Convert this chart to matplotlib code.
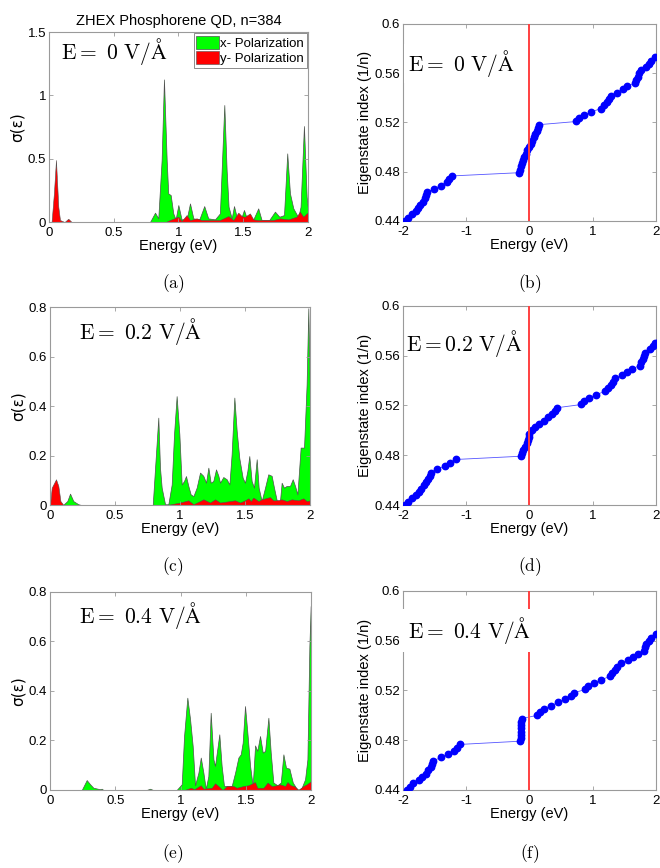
import numpy as np
import matplotlib
matplotlib.use("Agg")
import matplotlib.pyplot as plt

plt.rcParams['font.family'] = ['Liberation Sans', 'DejaVu Sans']
plt.rcParams['mathtext.fontset'] = 'cm'

# ---------------- optical conductivity spectra (left column) ----------------
# E = 0 V/A
a_x_energy = [0.0, 0.78, 0.819, 0.844, 0.870, 0.888, 0.909, 0.921, 0.940, 0.960, 0.978, 0.999, 1.024,
              1.063, 1.089, 1.115, 1.161, 1.199, 1.230, 1.282, 1.320, 1.354, 1.372, 1.387, 1.411,
              1.429, 1.454, 1.480, 1.506, 1.532, 1.578, 1.616, 1.642, 1.701, 1.745, 1.779, 1.815,
              1.840, 1.861, 1.887, 1.925, 1.943, 1.969, 1.990, 2.0]
a_x_sigma = [0.0, 0.0, 0.074, 0.029, 0.49, 1.126, 0.49, 0.226, 0.213, 0.068, 0.021, 0.134, 0.021,
             0.021, 0.147, 0.029, 0.021, 0.126, 0.029, 0.021, 0.068, 0.924, 0.41, 0.121, 0.029,
             0.126, 0.021, 0.016, 0.095, 0.016, 0.021, 0.108, 0.016, 0.016, 0.082, 0.042, 0.055,
             0.542, 0.226, 0.108, 0.037, 0.121, 0.758, 0.2, 0.108]
a_y_energy = [0.0, 0.020, 0.038, 0.054, 0.072, 0.085, 0.12, 0.149, 0.175, 0.90, 0.934, 0.999, 1.024,
              1.063, 1.089, 1.140, 1.179, 1.243, 1.320, 1.385, 1.424, 1.462, 1.488, 1.513, 1.552,
              1.578, 1.616, 1.680, 1.731, 1.784, 1.848, 1.912, 1.938, 1.964, 1.990, 2.0]
a_y_sigma = [0.0, 0.0, 0.226, 0.49, 0.121, 0.016, 0.0, 0.026, 0.0, 0.0, 0.016, 0.042, 0.008,
             0.055, 0.016, 0.029, 0.016, 0.016, 0.016, 0.047, 0.016, 0.074, 0.047, 0.042, 0.068,
             0.021, 0.016, 0.016, 0.016, 0.029, 0.021, 0.042, 0.082, 0.042, 0.068, 0.074]

# E = 0.2 V/A
c_x_energy = [0.0, 0.10, 0.133, 0.154, 0.179, 0.218, 0.24, 0.79, 0.808, 0.833, 0.846, 0.859, 0.885,
              0.910, 0.936, 0.954, 0.974, 0.995, 1.013, 1.031, 1.046, 1.064, 1.082, 1.103, 1.128,
              1.154, 1.179, 1.200, 1.218, 1.236, 1.256, 1.277, 1.295, 1.308, 1.333, 1.359, 1.380,
              1.397, 1.418, 1.436, 1.456, 1.482, 1.500, 1.518, 1.533, 1.551, 1.569, 1.590, 1.605,
              1.628, 1.654, 1.679, 1.705, 1.723, 1.744, 1.769, 1.782, 1.800, 1.820, 1.846, 1.867,
              1.885, 1.903, 1.928, 1.954, 1.974, 1.987, 2.0]
c_x_sigma = [0.0, 0.0, 0.016, 0.046, 0.016, 0.003, 0.0, 0.0, 0.15, 0.353, 0.15, 0.07, 0.003,
             0.003, 0.083, 0.286, 0.44, 0.286, 0.083, 0.097, 0.117, 0.077, 0.043, 0.036, 0.07,
             0.131, 0.118, 0.09, 0.151, 0.09, 0.097, 0.144, 0.118, 0.09, 0.113, 0.104, 0.083,
             0.205, 0.434, 0.3, 0.19, 0.11, 0.09, 0.137, 0.198, 0.097, 0.07, 0.185, 0.07,
             0.016, 0.07, 0.124, 0.118, 0.07, 0.019, 0.016, 0.09, 0.07, 0.077, 0.077, 0.104,
             0.077, 0.043, 0.232, 0.232, 0.488, 0.795, 0.42]
c_y_energy = [0.0, 0.013, 0.046, 0.064, 0.080, 0.103, 0.25, 0.90, 1.0, 1.064, 1.103, 1.154, 1.18,
              1.231, 1.27, 1.308, 1.385, 1.423, 1.462, 1.5, 1.526, 1.545, 1.564, 1.603, 1.628,
              1.692, 1.718, 1.749, 1.782, 1.821, 1.859, 1.910, 1.949, 1.974, 2.0]
c_y_sigma = [0.0, 0.07, 0.104, 0.077, 0.016, 0.0, 0.0, 0.0, 0.01, 0.019, 0.003, 0.016, 0.023,
             0.01, 0.023, 0.01, 0.016, 0.019, 0.01, 0.019, 0.027, 0.016, 0.03, 0.016, 0.023,
             0.032, 0.019, 0.019, 0.023, 0.016, 0.023, 0.019, 0.027, 0.016, 0.019]

# E = 0.4 V/A
e_x_energy = [0.0, 0.243, 0.262, 0.281, 0.307, 0.332, 0.383, 0.396, 0.409, 0.74, 0.766, 0.79, 0.97,
              1.009, 1.027, 1.052, 1.073, 1.093, 1.111, 1.137, 1.155, 1.175, 1.193, 1.213, 1.231,
              1.252, 1.264, 1.297, 1.315, 1.333, 1.366, 1.392, 1.418, 1.443, 1.461, 1.476, 1.494,
              1.512, 1.533, 1.553, 1.571, 1.588, 1.609, 1.630, 1.648, 1.673, 1.691, 1.711, 1.742,
              1.768, 1.788, 1.808, 1.834, 1.860, 1.885, 1.903, 1.928, 1.954, 1.972, 1.987, 1.997, 2.0]
e_x_sigma = [0.0, 0.0, 0.02, 0.04, 0.023, 0.009, 0.003, 0.005, 0.0, 0.0, 0.005, 0.0, 0.0,
             0.023, 0.218, 0.373, 0.286, 0.178, 0.019, 0.07, 0.131, 0.07, 0.005, 0.056, 0.312,
             0.124, 0.097, 0.225, 0.097, 0.016, 0.016, 0.016, 0.07, 0.131, 0.144, 0.191, 0.339,
             0.232, 0.097, 0.016, 0.18, 0.158, 0.218, 0.151, 0.158, 0.292, 0.151, 0.03, 0.019,
             0.03, 0.144, 0.09, 0.086, 0.03, 0.009, 0.0, 0.009, 0.043, 0.124, 0.58, 0.743, 0.0]
e_y_energy = [0.0, 1.03, 1.08, 1.105, 1.155, 1.175, 1.24, 1.264, 1.29, 1.322, 1.354, 1.405, 1.43,
              1.482, 1.52, 1.571, 1.588, 1.635, 1.667, 1.698, 1.737, 1.762, 1.801, 1.819, 1.844,
              1.870, 1.903, 1.941, 1.967, 2.0]
e_y_sigma = [0.0, 0.0, 0.009, 0.003, 0.019, 0.005, 0.009, 0.027, 0.016, 0.0, 0.016, 0.016, 0.009,
             0.016, 0.019, 0.032, 0.009, 0.009, 0.03, 0.016, 0.019, 0.023, 0.016, 0.032, 0.019,
             0.016, 0.0, 0.016, 0.023, 0.036]

# ---------------- eigenstate index vs energy (right column) ----------------
# eigenstate index k/n for n = 384 (k = 169 ... 220)
state_index = [0.4401, 0.4427, 0.4453, 0.4479, 0.4505, 0.4531, 0.4557, 0.4583, 0.4609, 0.4635,
               0.4661, 0.4688, 0.4714, 0.4740, 0.4766, 0.4792, 0.4818, 0.4844, 0.4870, 0.4896,
               0.4922, 0.4948, 0.4974, 0.5000, 0.5026, 0.5052, 0.5078, 0.5104, 0.5130, 0.5156,
               0.5182, 0.5208, 0.5234, 0.5260, 0.5286, 0.5313, 0.5339, 0.5365, 0.5391, 0.5417,
               0.5443, 0.5469, 0.5495, 0.5521, 0.5547, 0.5573, 0.5599, 0.5625, 0.5651, 0.5677,
               0.5703, 0.5729]

b_energy = [-1.971, -1.918, -1.855, -1.802, -1.760, -1.729, -1.686, -1.655, -1.639, -1.618,
            -1.507, -1.402, -1.312, -1.270, -1.223,
            -0.169, -0.153, -0.137, -0.121, -0.105, -0.084, -0.063, -0.037, -0.011, 0.021,
            0.047, 0.074, 0.095, 0.116, 0.137, 0.148,
            0.743, 0.785, 0.864, 0.980, 1.128, 1.180, 1.223, 1.260, 1.296, 1.391, 1.481, 1.549,
            1.665, 1.686, 1.708, 1.734, 1.760, 1.850, 1.892, 1.929, 1.992]
d_energy = [-1.968, -1.925, -1.862, -1.800, -1.750, -1.710, -1.668, -1.630, -1.600, -1.580,
            -1.560, -1.455, -1.340, -1.250, -1.165,
            -0.137, -0.116, -0.095, -0.074, -0.047, -0.021, -0.011, 0.000, 0.032, 0.084,
            0.153, 0.227, 0.295, 0.358, 0.406, 0.437,
            0.822, 0.864, 0.938, 1.049, 1.191, 1.244, 1.286, 1.323, 1.360, 1.465, 1.549, 1.623,
            1.744, 1.771, 1.792, 1.813, 1.834, 1.903, 1.955, 1.992, 2.06]
f_energy = [-1.929, -1.892, -1.839, -1.750, -1.697, -1.644, -1.602, -1.560, -1.539, -1.518,
            -1.402, -1.296, -1.191, -1.150, -1.101,
            -0.148, -0.142, -0.140, -0.137, -0.135, -0.132, -0.130, -0.126,
            0.126, 0.163, 0.232, 0.337, 0.453, 0.559, 0.664, 0.706, 0.885, 0.928, 1.017, 1.138,
            1.270, 1.307, 1.349, 1.391, 1.444, 1.560, 1.639, 1.718, 1.813, 1.834, 1.850, 1.887,
            1.918, 1.995]

spine_col = '#9a9a9a'


def style_axes(ax):
    for s in ax.spines.values():
        s.set_color(spine_col)
        s.set_linewidth(0.8)
    ax.tick_params(direction='in', top=True, right=True, length=3, width=0.6,
                   color=spine_col, labelsize=9.5)
    ax.tick_params(axis='x', pad=3.5)
    ax.tick_params(axis='y', pad=2)


def spectrum_panel(ax, xe, xs, ye, ys, ymax, yticks, ylabels, label, lx, ly):
    ax.fill_between(xe, xs, 0, facecolor='#00ff00', edgecolor='#505050', linewidth=0.5,
                    label='x- Polarization')
    ax.fill_between(ye, ys, 0, facecolor='#ff0000', edgecolor='#505050', linewidth=0.4,
                    label='y- Polarization')
    ax.set_xlim(0, 2)
    ax.set_ylim(0, ymax)
    ax.set_xticks([0, 0.5, 1, 1.5, 2])
    ax.set_xticklabels(['0', '0.5', '1', '1.5', '2'])
    ax.set_yticks(yticks)
    ax.set_yticklabels(ylabels)
    ax.set_xlabel('Energy (eV)', fontsize=10.5, labelpad=0)
    ax.set_ylabel(r'σ(ε)', fontsize=11, labelpad=2, family=['DejaVu Sans'])
    style_axes(ax)
    ax.text(lx, ly, label, transform=ax.transAxes, fontsize=15.5, va='center', ha='left')


def eigen_panel(ax, energy, label, lx, ly, box):
    n = len(energy)
    ax.plot(energy, state_index[:n], '-', color='#5555ff', linewidth=0.6, zorder=2)
    ax.plot(energy, state_index[:n], 'o', color='#0000ff', markersize=4.6, zorder=3)
    ax.axvline(0, color='#ff4040', linewidth=1.4, zorder=4)
    ax.set_xlim(-2, 2)
    ax.set_ylim(0.44, 0.6)
    ax.set_xticks([-2, -1, 0, 1, 2])
    ax.set_xticklabels(['-2', '-1', '0', '1', '2'])
    ax.set_yticks([0.44, 0.48, 0.52, 0.56, 0.6])
    ax.set_yticklabels(['0.44', '0.48', '0.52', '0.56', '0.6'])
    ax.set_xlabel('Energy (eV)', fontsize=10.5, labelpad=0)
    ax.set_ylabel('Eigenstate index (1/n)', fontsize=10.5, labelpad=2)
    style_axes(ax)
    t = ax.text(lx, ly, label, transform=ax.transAxes, fontsize=15.5, va='center', ha='left',
                zorder=5)
    if box is not None:
        t.set_bbox(dict(facecolor='white', edgecolor='none', pad=box))


fig = plt.figure(figsize=(6.6, 8.68), dpi=100)

ax_a = fig.add_axes([0.0742, 0.7442, 0.3924, 0.2189])
ax_b = fig.add_axes([0.6106, 0.7454, 0.3833, 0.2270])
ax_c = fig.add_axes([0.0758, 0.4182, 0.3939, 0.2281])
ax_d = fig.add_axes([0.6106, 0.4182, 0.3833, 0.2293])
ax_e = fig.add_axes([0.0758, 0.0899, 0.3955, 0.2281])
ax_f = fig.add_axes([0.6106, 0.0899, 0.3833, 0.2293])

spectrum_panel(ax_a, a_x_energy, a_x_sigma, a_y_energy, a_y_sigma, 1.5,
               [0, 0.5, 1, 1.5], ['0', '0.5', '1', '1.5'],
               r'$\mathrm{E{=}\ 0\ V/\AA}$', 0.045, 0.895)
ax_a.set_title('ZHEX Phosphorene QD, n=384', fontsize=10.5, pad=5)
leg = ax_a.legend(loc='upper right', fontsize=9.5, handlelength=1.7, handleheight=1.15,
                  handletextpad=0.1, borderpad=0.2, labelspacing=0.1, borderaxespad=0.1,
                  fancybox=False, framealpha=1)
leg.get_frame().set_edgecolor('#7a7a7a')
leg.get_frame().set_linewidth(0.6)

spectrum_panel(ax_c, c_x_energy, c_x_sigma, c_y_energy, c_y_sigma, 0.8,
               [0, 0.2, 0.4, 0.6, 0.8], ['0', '0.2', '0.4', '0.6', '0.8'],
               r'$\mathrm{E{=}\ 0.2\ V/\AA}$', 0.11, 0.875)
spectrum_panel(ax_e, e_x_energy, e_x_sigma, e_y_energy, e_y_sigma, 0.8,
               [0, 0.2, 0.4, 0.6, 0.8], ['0', '0.2', '0.4', '0.6', '0.8'],
               r'$\mathrm{E{=}\ 0.4\ V/\AA}$', 0.11, 0.88)

eigen_panel(ax_b, b_energy, r'$\mathrm{E{=}\ 0\ V/\AA\ \ }$', 0.02, 0.80, 3)
eigen_panel(ax_d, d_energy, r'$\mathrm{E{=}0.2\ V/\AA}$', 0.01, 0.81, None)
eigen_panel(ax_f, f_energy, r'$\mathrm{E{=}\ 0.4\ V/\AA\ }$', 0.02, 0.80, 4.5)

# panel captions
for lab, x, y in [('(a)', 0.262, 0.673), ('(b)', 0.803, 0.673),
                  ('(c)', 0.262, 0.347), ('(d)', 0.803, 0.347),
                  ('(e)', 0.262, 0.017), ('(f)', 0.803, 0.017)]:
    fig.text(x, y, r'$\mathrm{' + lab + '}$', fontsize=12.5, ha='center', va='center')

fig.savefig('out.png', dpi=100)
